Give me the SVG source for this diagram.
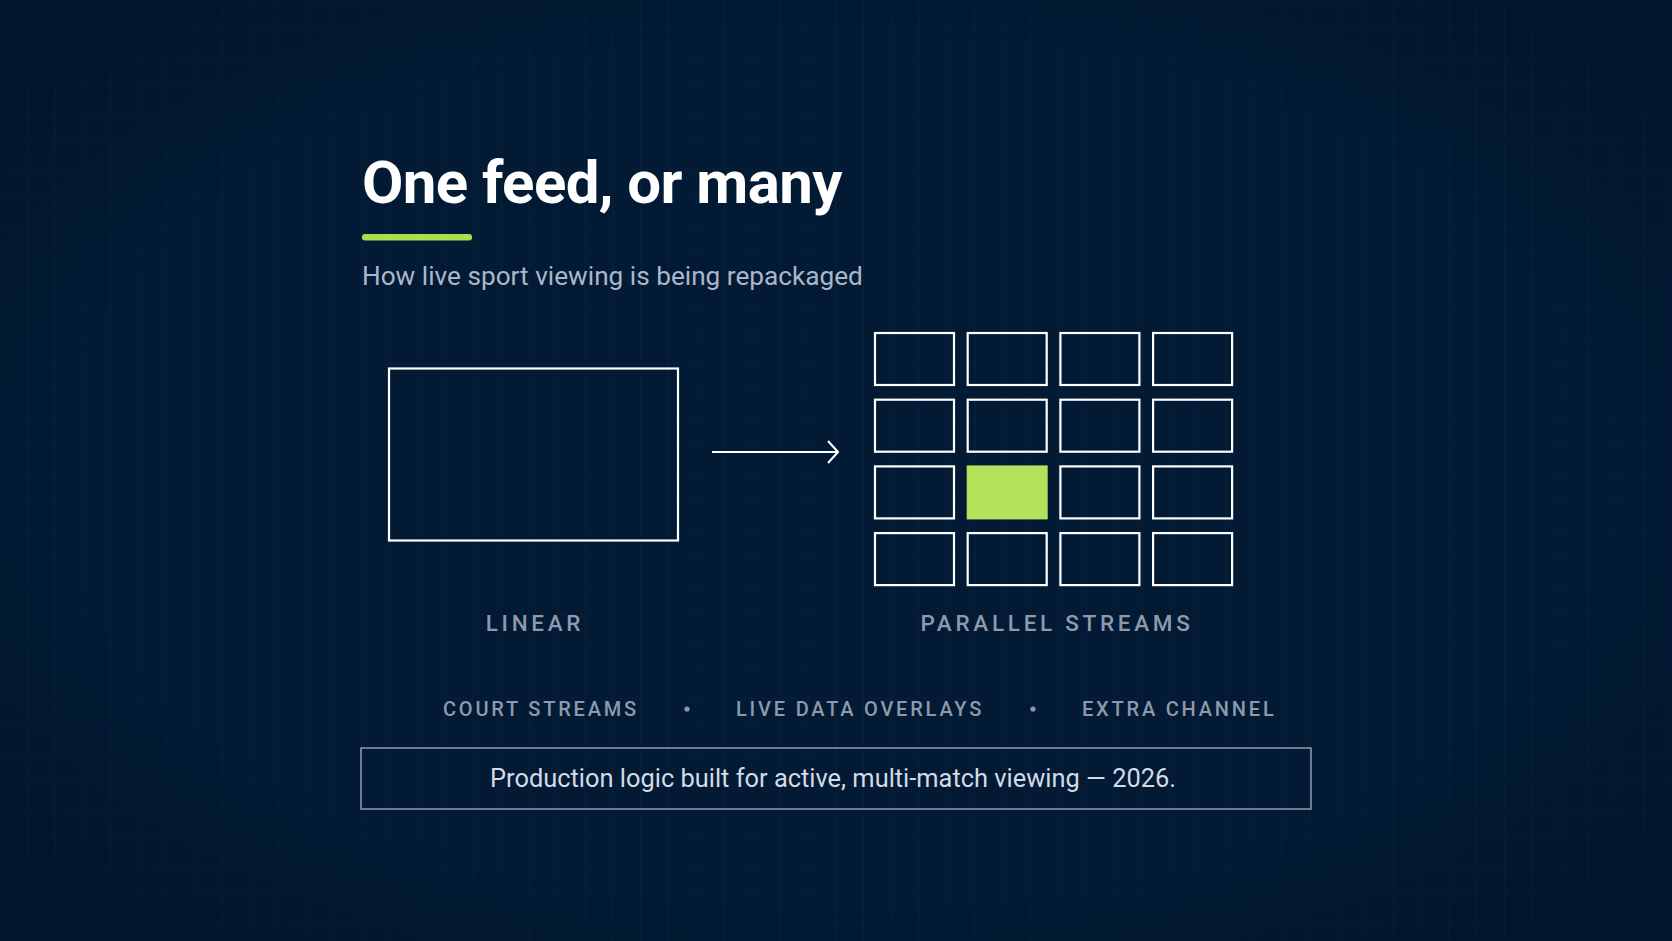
<svg xmlns="http://www.w3.org/2000/svg" width="1672" height="941" viewBox="0 0 1672 941">
<defs>
<pattern id="grid" width="27.87" height="27.87" patternUnits="userSpaceOnUse" x="0" y="2">
<path d="M27.87 0V27.87M0 27.87H27.87" fill="none" stroke="#0b223e" stroke-width="1.2"/>
</pattern>
<radialGradient id="vig" cx="50%" cy="50%" r="75%">
<stop offset="0.6" stop-color="#000814" stop-opacity="0"/>
<stop offset="1" stop-color="#000814" stop-opacity="0.3"/>
</radialGradient>
<marker id="chev" viewBox="0 0 12 24" refX="11" refY="12" markerWidth="12" markerHeight="24" markerUnits="userSpaceOnUse" orient="auto">
<path d="M1 1L11 12L1 23" fill="none" stroke="#ffffff" stroke-width="2"/>
</marker>
<style>
.cell{fill:none;stroke:#ffffff;stroke-width:2.2}
.hi{fill:#b3e35a;stroke:none}
.lbl{font-family:Roboto,"Liberation Sans",sans-serif;font-weight:500;fill:#8e9aab;letter-spacing:3.7px}
.tag{font-family:Roboto,"Liberation Sans",sans-serif;font-weight:500;fill:#8e9aab;font-size:20px;letter-spacing:2.8px}
</style>
</defs>
<rect width="1672" height="941" fill="#021a34"/>
<rect width="1672" height="941" fill="url(#grid)"/>
<rect width="1672" height="941" fill="url(#vig)"/>

<g id="title">
<text x="362" y="203" font-family="Roboto, 'Liberation Sans', sans-serif" font-weight="700" font-size="60" letter-spacing="-0.6" fill="#ffffff">One feed, or many</text>
<rect x="362" y="234" width="110" height="6.5" rx="3" fill="#a6e04c"/>
<text x="362" y="285" font-family="Roboto, 'Liberation Sans', sans-serif" font-size="26.2" fill="#aab7c8">How live sport viewing is being repackaged</text>
</g>

<g id="linear">
<rect x="389" y="368.5" width="289" height="172" fill="none" stroke="#ffffff" stroke-width="2.2"/>
<text class="lbl" x="535" y="631" font-size="22.5" text-anchor="middle">LINEAR</text>
</g>

<g id="connectors">
<line x1="712" y1="452" x2="838" y2="452" stroke="#ffffff" stroke-width="2" marker-end="url(#chev)"/>
</g>

<g id="parallel">
<rect class="cell" x="875" y="333" width="79" height="52"/>
<rect class="cell" x="967.7" y="333" width="79" height="52"/>
<rect class="cell" x="1060.4" y="333" width="79" height="52"/>
<rect class="cell" x="1153.1" y="333" width="79" height="52"/>
<rect class="cell" x="875" y="399.7" width="79" height="52"/>
<rect class="cell" x="967.7" y="399.7" width="79" height="52"/>
<rect class="cell" x="1060.4" y="399.7" width="79" height="52"/>
<rect class="cell" x="1153.1" y="399.7" width="79" height="52"/>
<rect class="cell" x="875" y="466.4" width="79" height="52"/>
<rect class="hi" x="966.7" y="465.4" width="81" height="54"/>
<rect class="cell" x="1060.4" y="466.4" width="79" height="52"/>
<rect class="cell" x="1153.1" y="466.4" width="79" height="52"/>
<rect class="cell" x="875" y="533.1" width="79" height="52"/>
<rect class="cell" x="967.7" y="533.1" width="79" height="52"/>
<rect class="cell" x="1060.4" y="533.1" width="79" height="52"/>
<rect class="cell" x="1153.1" y="533.1" width="79" height="52"/>
<text class="lbl" x="1057" y="631" font-size="22.5" text-anchor="middle">PARALLEL STREAMS</text>
</g>

<g id="tags">
<text class="tag" x="443" y="716">COURT STREAMS</text>
<circle cx="687" cy="709" r="2.6" fill="#8e9aab"/>
<text class="tag" x="736" y="716">LIVE DATA OVERLAYS</text>
<circle cx="1033" cy="709" r="2.6" fill="#8e9aab"/>
<text class="tag" x="1082" y="716">EXTRA CHANNEL</text>
</g>

<g id="footer">
<rect x="361" y="748" width="950" height="61" fill="none" stroke="#8a96a6" stroke-width="1.6"/>
<text x="833" y="787" text-anchor="middle" font-family="Roboto, 'Liberation Sans', sans-serif" font-size="25.4" fill="#d3dbe5">Production logic built for active, multi-match viewing — 2026.</text>
</g>
</svg>
